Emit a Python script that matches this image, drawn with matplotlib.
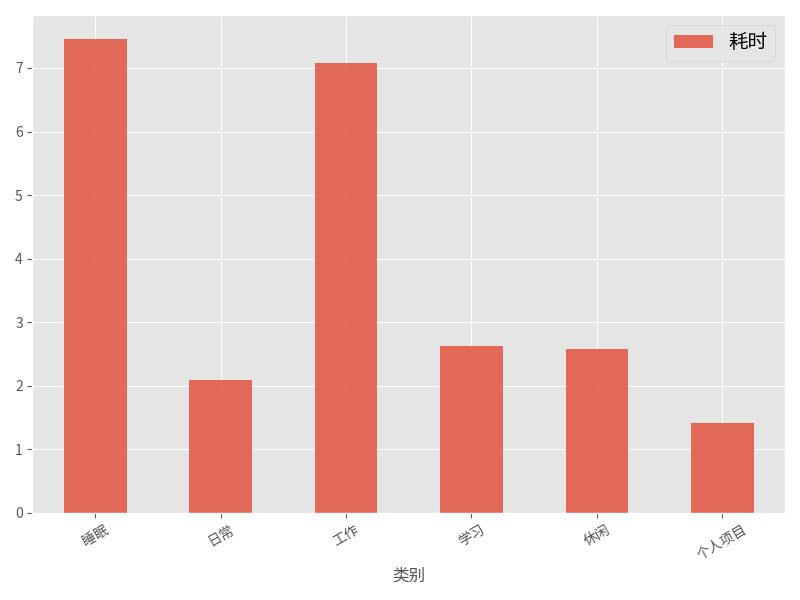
import matplotlib
matplotlib.use('Agg')
import matplotlib.pyplot as plt
import pandas as pd

plt.style.use('ggplot')
plt.rcParams['font.family'] = ['Noto Sans CJK SC', 'DejaVu Sans']
plt.rcParams['axes.unicode_minus'] = False

# 各类别耗时（小时）
categories = ['睡眠', '日常', '工作', '学习', '休闲', '个人项目']
hours = [7.46, 2.09, 7.08, 2.63, 2.58, 1.42]

df = pd.DataFrame({'类别': categories, '耗时': hours}).set_index('类别')

fig, ax = plt.subplots(figsize=(8, 6), dpi=100)
df.plot(kind='bar', ax=ax, rot=30, alpha=0.8)
ax.legend(prop={'size': 14})
plt.tight_layout()
plt.savefig('out.png')
